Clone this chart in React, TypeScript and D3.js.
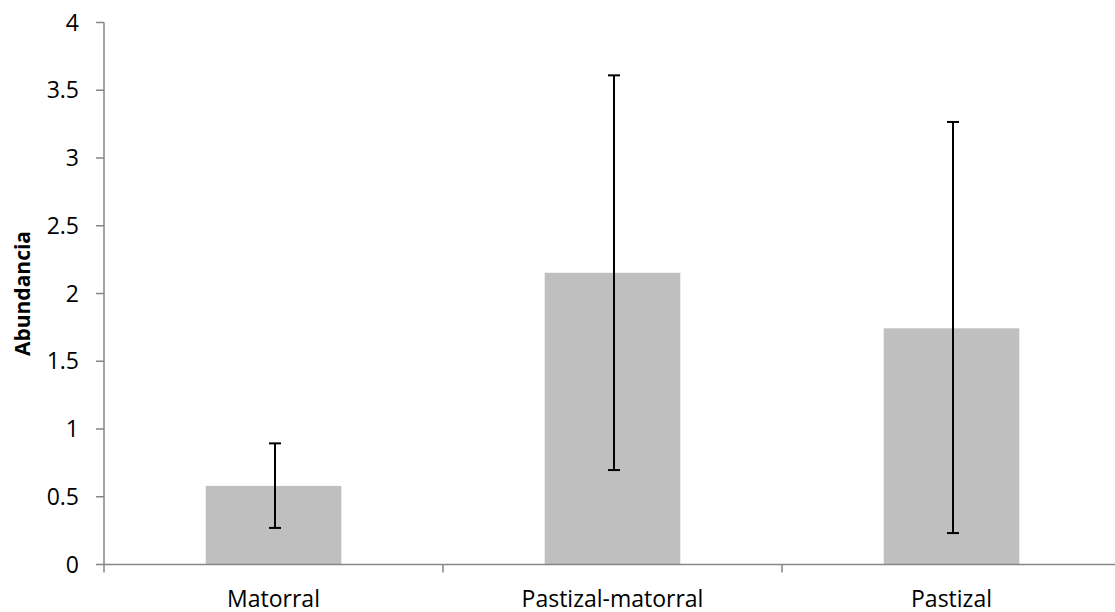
import React from "react";
import * as d3 from "d3";

const width = 1115;
const height = 612;
const margin = { top: 22.5, right: -6, bottom: 47.5, left: 104 };

const categories = ["Matorral", "Pastizal-matorral", "Pastizal"];
const means = [0.58, 2.153, 1.743];
const errLow = [0.27, 0.697, 0.232];
const errHigh = [0.894, 3.61, 3.266];
const yTicks = [0, 0.5, 1, 1.5, 2, 2.5, 3, 3.5, 4];

const font = "'Open Sans', 'Noto Sans', sans-serif";
const axisColor = "#868686";

export default function App() {
  const x = d3
    .scaleBand<string>()
    .domain(categories)
    .range([margin.left, width - margin.right])
    .paddingInner(0.6)
    .paddingOuter(0.3);
  const y = d3
    .scaleLinear()
    .domain([0, 4])
    .range([height - margin.bottom, margin.top]);

  const step = x.step();
  const x0 = margin.left;
  const y0 = y(0);
  const capHalf = 6;

  return (
    <svg
      width={width}
      height={height}
      style={{ position: "absolute", left: 0, top: 0, background: "#fff" }}
    >
      {/* bars */}
      {categories.map((c, i) => (
        <rect
          key={c}
          x={x(c)}
          y={y(means[i])}
          width={x.bandwidth()}
          height={y0 - y(means[i])}
          fill="#bfbfbf"
        />
      ))}

      {/* y axis */}
      <g>
        <line x1={x0} x2={x0} y1={y(4)} y2={y0} stroke={axisColor} strokeWidth={1.5} />
        {yTicks.map((t) => (
          <g key={t} transform={`translate(0, ${y(t)})`}>
            <line x1={x0 - 8} x2={x0} stroke={axisColor} strokeWidth={1.5} />
            <text
              x={x0 - 25}
              dy="0.35em"
              textAnchor="end"
              fontFamily={font}
              fontSize={23}
              fill="#000"
            >
              {t}
            </text>
          </g>
        ))}
      </g>

      {/* x axis */}
      <g>
        <line x1={x0} x2={x0 + step * categories.length} y1={y0} y2={y0} stroke={axisColor} strokeWidth={1.5} />
        {d3.range(categories.length + 1).map((i) => (
          <line
            key={i}
            x1={x0 + step * i}
            x2={x0 + step * i}
            y1={y0}
            y2={y0 + 8}
            stroke={axisColor}
            strokeWidth={1.5}
          />
        ))}
        {categories.map((c) => (
          <text
            key={c}
            x={x(c)! + x.bandwidth() / 2}
            y={y0 + 42}
            textAnchor="middle"
            fontFamily={font}
            fontSize={23}
            fill="#000"
          >
            {c}
          </text>
        ))}
      </g>

      {/* error bars */}
      {categories.map((c, i) => {
        const cx = x(c)! + x.bandwidth() / 2 + 1.5;
        return (
          <g key={c} stroke="#000" strokeWidth={2}>
            <line x1={cx} x2={cx} y1={y(errHigh[i])} y2={y(errLow[i])} />
            <line x1={cx - capHalf} x2={cx + capHalf} y1={y(errHigh[i])} y2={y(errHigh[i])} />
            <line x1={cx - capHalf} x2={cx + capHalf} y1={y(errLow[i])} y2={y(errLow[i])} />
          </g>
        );
      })}

      {/* y title */}
      <text
        transform={`translate(23, ${(y(0) + y(4)) / 2 + 0}) rotate(-90)`}
        textAnchor="middle"
        dy="0.35em"
        fontFamily={font}
        fontWeight="bold"
        fontSize={21}
        fill="#000"
      >
        Abundancia
      </text>
    </svg>
  );
}
